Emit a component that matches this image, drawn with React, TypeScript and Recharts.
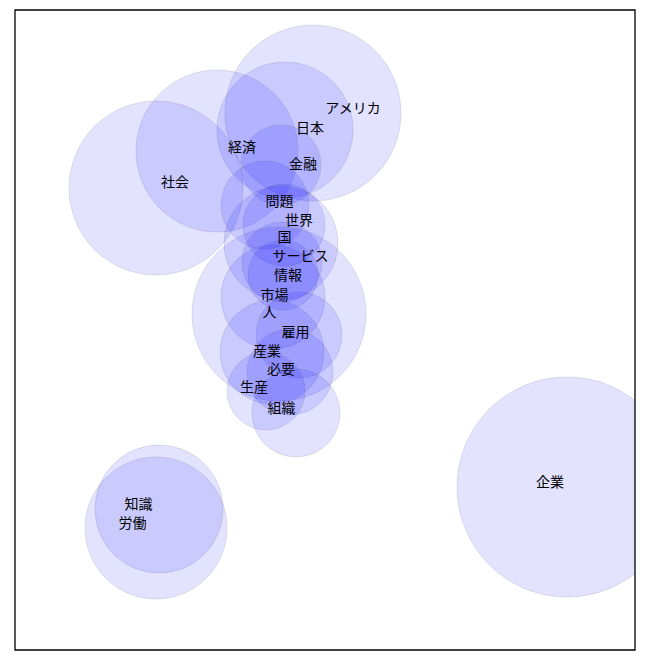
import React from 'react';
import { ScatterChart, Scatter, XAxis, YAxis, ZAxis, ReferenceArea } from 'recharts';

const words = ['アメリカ','日本','経済','社会','金融','問題','世界','国','サービス','情報','市場','人','雇用','産業','必要','生産','組織','知識','労働','企業'];
const bubbleX = [298,270,202,141,266,250,269,266,267,268,258,264,284,257,275,251,281,144,141,552];
const bubbleY = [537,520,499,462,485,445,425,407,388,375,353,336,315,298,278,259,237,141,122,163];
const weights = [7744,4624,6561,7569,1600,1936,1681,3249,1600,1225,2704,7569,1849,2704,1849,1521,1936,4096,5041,12100];
const labelX = [338,295,227,160,288,264.5,284,269.5,285.5,273,259.5,254.5,280.5,252,266,239,266.5,123.5,117.5,535];
const labelY = [542,522,503,468,486,449,430,413,394,375,355,338,318,299,281,263,242,146,127,168];

const bubbles = words.map((w, i) => ({ name: w, x: bubbleX[i], y: bubbleY[i], z: weights[i] }));
const labels = words.map((w, i) => ({ name: w, x: labelX[i], y: labelY[i] }));

const Bubble = (p: any) => (
  <circle cx={p.cx} cy={p.cy} r={p.width / 2} fill="#0000ff" fillOpacity={0.11} stroke="#505070" strokeOpacity={0.16} strokeWidth={1} />
);

const Label = (p: any) => (
  <text x={p.cx} y={p.cy} dy={-1.5} textAnchor="middle" dominantBaseline="central" fontSize={14} fill="#000" fontFamily="'Noto Sans CJK JP', sans-serif">
    {p.payload.name}
  </text>
);

export default function App() {
  return (
    <ScatterChart width={660} height={660} margin={{ top: 2, left: 7, right: 33, bottom: 18 }}>
      <XAxis type="number" dataKey="x" domain={[0, 620]} hide allowDataOverflow />
      <YAxis type="number" dataKey="y" domain={[0, 640]} hide allowDataOverflow />
      <ZAxis type="number" dataKey="z" domain={[0, 12100]} range={[0, 12100 * Math.PI]} />
      <Scatter data={bubbles} shape={Bubble} isAnimationActive={false} />
      <Scatter data={labels} shape={Label} isAnimationActive={false} />
      <ReferenceArea x1={0} x2={620} y1={0} y2={640} fill="none" stroke="#000" strokeWidth={1.3} fillOpacity={0} ifOverflow="visible" />
    </ScatterChart>
  );
}
